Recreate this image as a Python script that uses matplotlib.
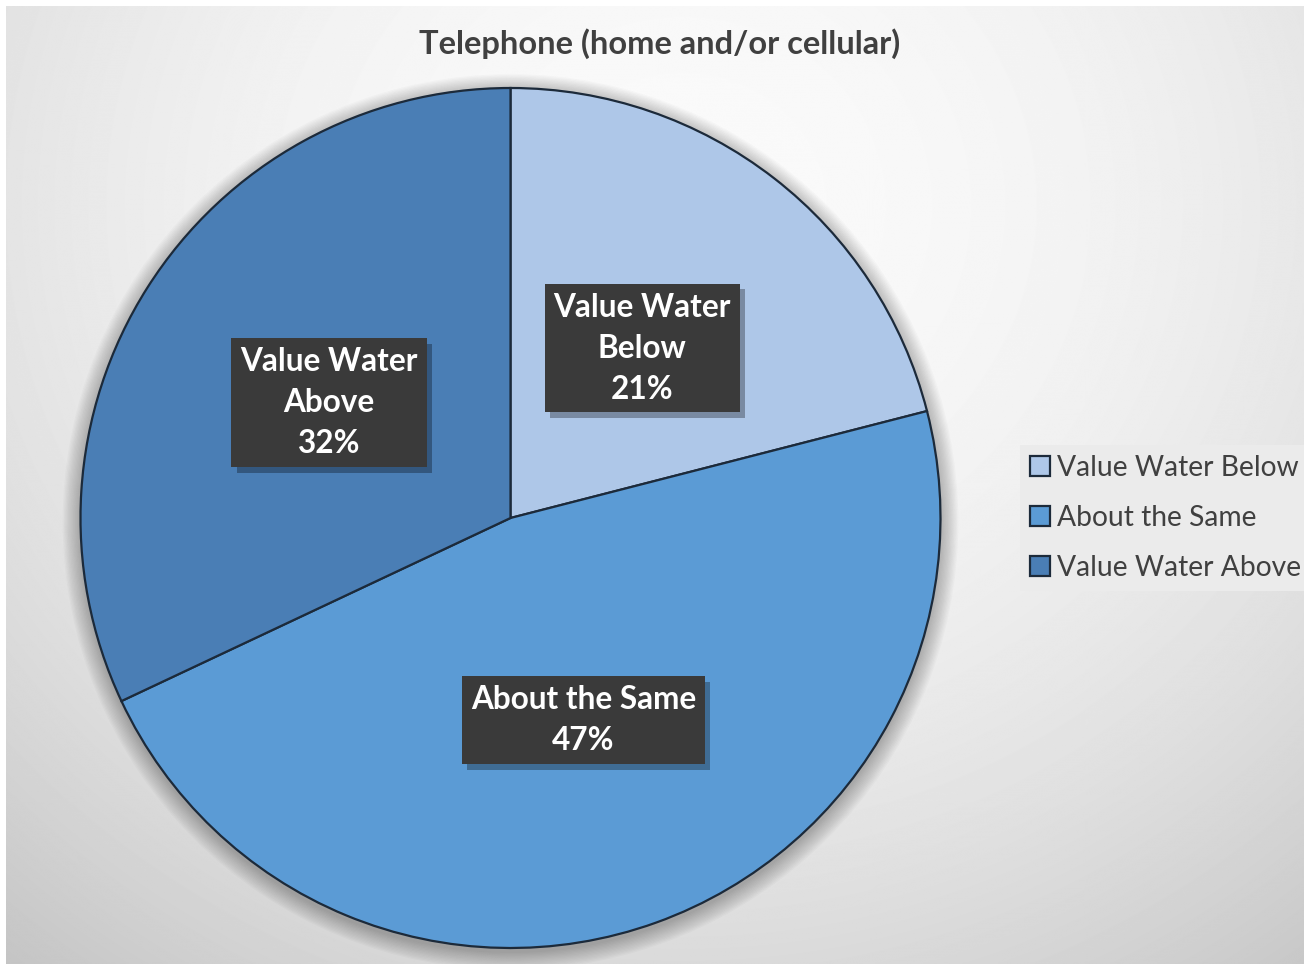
import numpy as np
import matplotlib.pyplot as plt
from matplotlib.patches import Circle
import matplotlib.patheffects as pe

plt.rcParams['font.family'] = ['Lato', 'DejaVu Sans']

# survey answers
title = 'Telephone (home and/or cellular)'
categories = ['Value Water Below', 'About the Same', 'Value Water Above']
box_labels = ['Value Water\nBelow', 'About the Same', 'Value Water\nAbove']
shares = [21, 47, 32]
colors = ['#aec7e8', '#5b9bd5', '#4a7eb5']

W, H = 1304, 964
fig = plt.figure(figsize=(W / 100, H / 100), dpi=100)
fig.patch.set_facecolor('white')

# soft gray backdrop, lighter toward the upper middle
bg = fig.add_axes([6 / W, 0, 1 - 6 / W, 1 - 6 / H])
yy, xx = np.mgrid[0:H, 0:W]
dx = (xx - 680) / 650.0
dy = (yy - 200) / 750.0
shade = 250 - 20 * dx ** 2 - 31 * dy ** 2
shade = np.clip(shade, 0, 255) / 255.0
bg.imshow(shade, cmap='gray', vmin=0, vmax=1, aspect='auto',
          extent=(0, W, H, 0), interpolation='bilinear')
bg.set_axis_off()

ax = fig.add_axes([0, 0, 1, 1])
ax.set_facecolor('none')
cx, cy, R = 510.5, H - 518, 430

# blurred drop shadow under the pie
for i in range(14):
    ax.add_patch(Circle((cx, cy - 4), R + 1 + i * 1.3, color='black',
                        alpha=0.018, lw=0, zorder=0))

wedges, _ = ax.pie(shares, colors=colors, startangle=90, counterclock=False,
                   center=(cx, cy), radius=R,
                   wedgeprops=dict(edgecolor='#1c2a3a', linewidth=1.6))
for w in wedges:
    w.set_zorder(1)
ax.set_xlim(0, W)
ax.set_ylim(0, H)
ax.set_aspect('auto')
ax.set_axis_off()

for w, lab, v in zip(wedges, box_labels, shares):
    mid = np.deg2rad((w.theta1 + w.theta2) / 2)
    tx = cx + 0.5 * R * np.cos(mid)
    ty = cy + 0.5 * R * np.sin(mid)
    t = ax.text(tx, ty, f'{lab}\n{v}%', ha='center', va='center', fontsize=22.7,
                fontweight='bold', color='white', linespacing=1.5,
                bbox=dict(boxstyle='square,pad=0.28', fc='#3a3a3a', ec='none'),
                zorder=3)
    t.get_bbox_patch().set_path_effects([
        pe.SimplePatchShadow(offset=(4, -4), shadow_rgbFace='black', alpha=0.3),
        pe.Normal()])

fig.text(660 / W, 1 - 44 / H, title, ha='center', va='center',
         fontsize=23.5, fontweight='bold', color='#404040')

leg = ax.legend(wedges, categories, loc='center left',
                bbox_to_anchor=(1020 / W, 1 - 518 / H), bbox_transform=fig.transFigure,
                fontsize=20.3, frameon=True, fancybox=False, handlelength=0.7,
                handleheight=0.7, handletextpad=0.25, labelspacing=0.85,
                borderpad=0.35, borderaxespad=0)
leg.get_frame().set_facecolor('#ebebeb')
leg.get_frame().set_edgecolor('none')
leg.get_frame().set_alpha(1)
for t in leg.get_texts():
    t.set_color('#404040')

fig.savefig('out.png', dpi=100)
